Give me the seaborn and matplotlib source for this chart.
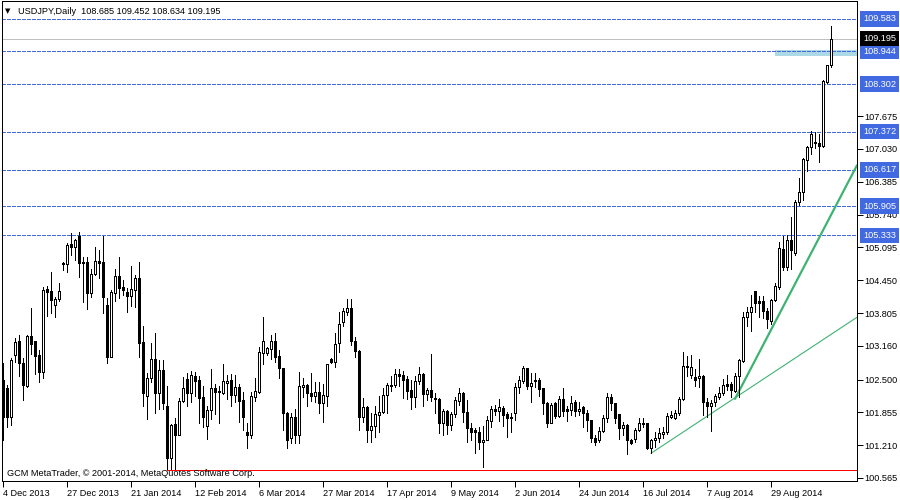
import matplotlib
matplotlib.use("Agg")
import matplotlib.pyplot as plt
import matplotlib.transforms as mtransforms
from matplotlib.patches import Rectangle
import seaborn as sns
import pandas as pd
import numpy as np

# daily USDJPY bars, 4 Dec 2013 .. 19 Sep 2014
opens = [
    102.49, 102.33, 101.77, 102.98, 103.26, 102.82, 102.38, 103.35, 103.26, 102.99,
    102.64, 104.27, 104.24, 103.96, 104.08, 104.79, 104.76, 105.16, 105.11, 105.32,
    104.81, 104.80, 104.19, 104.57, 104.83, 104.80, 103.96, 102.95, 104.19, 104.53,
    104.31, 104.21, 104.14, 104.26, 104.50, 103.24, 102.18, 102.52, 102.90, 102.23,
    102.69, 101.97, 100.95, 101.63, 101.40, 102.08, 102.51, 102.23, 102.57, 102.49,
    102.15, 101.59, 101.90, 102.33, 102.27, 102.24, 102.44, 102.49, 102.20, 102.36,
    102.10, 101.46, 101.40, 102.16, 102.26, 103.03, 103.03, 103.09, 103.26, 102.96,
    102.73, 101.85, 101.36, 101.77, 101.40, 102.36, 102.39, 102.23, 102.18, 102.25,
    102.03, 102.18, 102.90, 102.85, 103.21, 103.62, 103.83, 103.90, 103.26, 103.06,
    101.77, 101.95, 101.50, 101.59, 101.80, 101.87, 102.20, 102.38, 102.40, 102.60,
    102.59, 102.51, 102.30, 102.15, 102.47, 102.60, 102.21, 102.29, 102.14, 102.12,
    101.65, 101.88, 101.61, 101.82, 102.08, 102.24, 101.86, 101.54, 101.51, 101.47,
    101.28, 101.32, 101.69, 101.92, 101.88, 101.94, 101.82, 101.77, 101.84, 102.35,
    102.48, 102.72, 102.38, 102.49, 102.50, 102.33, 102.03, 101.65, 102.03, 101.79,
    102.11, 101.93, 101.91, 102.05, 101.89, 101.95, 101.84, 101.70, 101.36, 101.31,
    101.49, 101.74, 102.16, 102.04, 101.82, 101.54, 101.60, 101.31, 101.34, 101.51,
    101.63, 101.65, 101.15, 101.31, 101.36, 101.43, 101.46, 101.77, 101.74, 101.84,
    102.11, 102.77, 102.59, 102.54, 102.52, 102.57, 102.06, 101.98, 102.06, 102.16,
    102.23, 102.41, 102.41, 102.28, 102.56, 102.87, 103.72, 103.82, 104.24, 104.04,
    104.04, 103.85, 103.64, 104.07, 104.32, 105.06, 104.71, 105.24, 104.98, 105.99,
    106.19, 106.82, 107.07, 107.17, 107.15, 107.09, 108.34, 108.685,
]
highs = [
    102.82, 102.39, 102.92, 103.31, 103.37, 102.92, 103.37, 103.90, 103.26, 103.08,
    104.32, 104.34, 104.62, 104.13, 104.40, 104.81, 105.18, 105.37, 105.27, 105.40,
    104.91, 104.91, 104.68, 105.11, 105.04, 105.32, 104.10, 104.26, 104.67, 104.90,
    104.45, 104.29, 104.73, 104.55, 104.81, 103.55, 102.62, 103.21, 103.41, 102.88,
    102.88, 102.37, 101.63, 101.75, 102.14, 102.54, 102.62, 102.67, 102.65, 102.56,
    102.37, 101.97, 102.70, 102.42, 102.37, 102.80, 102.59, 102.60, 102.59, 102.41,
    102.26, 101.64, 102.26, 102.52, 103.14, 103.73, 103.14, 103.37, 103.41, 103.08,
    102.73, 101.87, 101.84, 101.93, 102.65, 102.52, 102.41, 102.62, 102.46, 102.46,
    102.41, 102.80, 102.93, 103.41, 103.82, 103.90, 104.09, 104.09, 103.34, 103.08,
    102.13, 101.97, 101.84, 101.98, 102.18, 102.34, 102.44, 102.56, 102.70, 102.70,
    102.67, 102.56, 102.49, 102.56, 102.74, 102.62, 102.34, 103.00, 102.23, 102.13,
    101.93, 101.91, 101.87, 102.16, 102.33, 102.26, 102.10, 101.64, 101.54, 101.56,
    101.59, 101.79, 101.97, 102.00, 102.11, 101.97, 101.86, 101.84, 102.44, 102.56,
    102.77, 102.72, 102.62, 102.62, 102.52, 102.34, 102.06, 102.03, 102.06, 102.18,
    102.33, 101.98, 102.18, 102.10, 102.06, 101.97, 101.90, 101.70, 101.41, 101.56,
    101.80, 102.24, 102.21, 102.04, 101.82, 101.67, 101.62, 101.34, 101.54, 101.74,
    101.74, 101.65, 101.34, 101.47, 101.54, 101.57, 101.84, 101.88, 101.90, 102.16,
    103.05, 102.96, 102.98, 102.70, 102.90, 102.59, 102.13, 102.10, 102.21, 102.35,
    102.51, 102.59, 102.46, 102.63, 102.90, 103.82, 103.93, 104.16, 104.24, 104.14,
    104.14, 103.90, 104.09, 104.39, 105.21, 105.31, 105.34, 105.69, 106.02, 106.45,
    106.86, 107.08, 107.38, 107.37, 107.33, 108.38, 108.68, 109.452,
]
lows = [
    101.31, 101.57, 101.61, 102.85, 102.56, 102.10, 102.36, 103.01, 102.60, 102.46,
    102.52, 103.75, 103.81, 103.73, 104.05, 104.66, 104.62, 104.94, 104.85, 104.51,
    104.03, 103.88, 104.13, 104.55, 104.49, 103.80, 102.82, 102.95, 104.05, 104.11,
    104.16, 103.83, 103.94, 103.93, 102.95, 101.98, 101.72, 102.46, 101.84, 101.93,
    101.93, 100.75, 100.75, 100.75, 101.40, 102.06, 101.97, 102.06, 102.18, 101.65,
    101.57, 101.34, 101.72, 101.82, 101.64, 102.22, 102.12, 101.97, 102.06, 101.67,
    101.51, 101.16, 101.36, 102.08, 102.23, 102.80, 102.98, 102.90, 102.85, 102.52,
    101.50, 101.16, 101.25, 101.25, 101.25, 102.16, 101.98, 102.08, 102.05, 101.84,
    101.67, 101.98, 102.83, 102.75, 103.05, 103.55, 103.77, 103.18, 102.95, 101.51,
    101.67, 101.28, 101.28, 101.38, 101.46, 101.84, 101.84, 102.27, 102.36, 102.37,
    102.13, 102.11, 101.93, 101.95, 102.42, 101.98, 102.10, 102.08, 101.84, 101.44,
    101.40, 101.42, 101.51, 101.77, 102.00, 101.67, 101.28, 101.31, 101.06, 101.14,
    100.79, 101.31, 101.56, 101.80, 101.69, 101.59, 101.38, 101.46, 101.70, 102.23,
    102.43, 102.31, 102.06, 102.35, 102.18, 101.82, 101.56, 101.64, 101.74, 101.77,
    101.79, 101.69, 101.80, 101.79, 101.80, 101.57, 101.48, 101.28, 101.21, 101.28,
    101.46, 101.67, 101.90, 101.64, 101.34, 101.41, 101.03, 101.23, 101.28, 101.49,
    101.57, 101.13, 101.05, 101.18, 101.28, 101.36, 101.43, 101.74, 101.72, 101.80,
    102.10, 102.56, 102.52, 102.37, 102.36, 101.80, 101.76, 101.48, 101.97, 102.11,
    102.20, 102.29, 102.16, 102.26, 102.15, 102.85, 103.56, 103.46, 103.82, 103.72,
    103.70, 103.52, 103.60, 104.05, 104.27, 104.65, 104.65, 104.67, 104.95, 105.93,
    106.02, 106.59, 106.94, 107.05, 106.78, 107.07, 108.32, 108.634,
]
closes = [
    101.77, 101.77, 102.88, 103.24, 102.82, 102.39, 103.35, 103.19, 102.97, 102.64,
    104.26, 104.21, 104.06, 104.08, 104.24, 104.76, 105.14, 105.11, 105.24, 104.78,
    104.78, 104.19, 104.57, 104.83, 104.79, 104.13, 102.95, 104.21, 104.53, 104.30,
    104.26, 104.15, 104.27, 104.50, 103.22, 102.23, 102.52, 102.90, 102.23, 102.69,
    102.03, 100.95, 101.61, 101.40, 102.08, 102.33, 102.23, 102.59, 102.48, 102.13,
    101.76, 101.90, 102.33, 102.26, 102.25, 102.47, 102.47, 102.20, 102.36, 102.08,
    101.76, 101.40, 102.18, 102.27, 103.05, 103.26, 103.11, 103.26, 102.95, 102.72,
    101.84, 101.32, 101.77, 101.40, 102.37, 102.39, 102.23, 102.18, 102.25, 102.03,
    102.20, 102.80, 102.85, 103.20, 103.60, 103.85, 103.90, 103.26, 103.06, 101.77,
    101.95, 101.50, 101.59, 101.82, 101.87, 102.20, 102.39, 102.40, 102.60, 102.57,
    102.50, 102.28, 102.15, 102.47, 102.60, 102.21, 102.29, 102.16, 102.11, 101.64,
    101.88, 101.61, 101.82, 102.10, 102.23, 101.86, 101.54, 101.46, 101.46, 101.28,
    101.32, 101.70, 101.93, 101.88, 101.95, 101.80, 101.75, 101.75, 102.36, 102.49,
    102.72, 102.38, 102.44, 102.48, 102.31, 102.03, 101.65, 102.00, 101.79, 102.11,
    101.89, 101.89, 102.03, 101.88, 101.93, 101.84, 101.70, 101.36, 101.28, 101.49,
    101.74, 102.16, 102.03, 101.74, 101.54, 101.60, 101.31, 101.26, 101.51, 101.64,
    101.65, 101.15, 101.31, 101.36, 101.44, 101.46, 101.78, 101.80, 101.84, 102.11,
    102.76, 102.74, 102.75, 102.50, 102.57, 102.06, 101.98, 102.04, 102.18, 102.24,
    102.39, 102.37, 102.29, 102.56, 102.88, 103.72, 103.82, 103.92, 104.01, 104.01,
    103.85, 103.69, 104.06, 104.33, 105.08, 104.71, 105.24, 105.04, 105.99, 106.19,
    106.84, 107.07, 107.33, 107.14, 107.09, 108.36, 108.67, 109.195,
]

date_labels = ["4 Dec 2013", "27 Dec 2013", "21 Jan 2014", "12 Feb 2014", "6 Mar 2014",
               "27 Mar 2014", "17 Apr 2014", "9 May 2014", "2 Jun 2014", "24 Jun 2014",
               "16 Jul 2014", "7 Aug 2014", "29 Aug 2014"]
date_bars = [0, 16, 32, 48, 64, 80, 96, 112, 128, 144, 160, 176, 192]

price_ticks = [100.565, 101.210, 101.855, 102.500, 103.160, 103.805, 104.450,
               105.095, 105.740, 106.385, 107.030, 107.675]
levels = [109.583, 108.944, 108.302, 107.372, 106.617, 105.905, 105.333]
bid = 109.195
support_low = 100.73
support_start = 41
zone = (108.86, 108.98)
zone_start = 193
thin_trend = [(162, 101.05), (183, 102.14)]
thick_trend = [(183, 102.12), (205, 105.43)]

title = "USDJPY,Daily  108.685 109.452 108.634 109.195"
credit = "GCM MetaTrader, \u00a9 2001-2014, MetaQuotes Software Corp."

sns.set_theme(style="white")
plt.rcParams["font.family"] = ["Liberation Sans", "DejaVu Sans"]

BLUE = "#4169E1"
GREEN = "#3CB371"
FS = 6.6
PX = 0.72  # one pixel in points at 100 dpi

df = pd.DataFrame({"open": opens, "high": highs, "low": lows, "close": closes})
df["bar"] = np.arange(len(df))
df["up"] = df["close"] >= df["open"]
df["body_lo"] = df[["open", "close"]].min(axis=1)
df["body_h"] = np.maximum((df["close"] - df["open"]).abs(), 0.012)

fig = plt.figure(figsize=(9, 5), dpi=100)
ax = fig.add_axes([2 / 900, 19 / 500, 855 / 900, 480 / 500])
x_lo, x_hi = -0.25, 213.5
ax.set_xlim(x_lo, x_hi)
ax.set_ylim(100.506, 109.936)

# horizontal levels
for lv in levels:
    ax.axhline(lv, color=BLUE, lw=PX, ls=(0, (3, 2)), zorder=2, antialiased=False)
ax.axhline(bid, color="#C0C0C0", lw=PX, zorder=1, antialiased=False)
ax.add_patch(Rectangle((zone_start, zone[0]), x_hi - zone_start, zone[1] - zone[0],
                       facecolor="#ADD8E6", edgecolor="none", zorder=1))
ax.plot([support_start, x_hi], [support_low, support_low], color="red", lw=PX, zorder=2,
        antialiased=False)

# trend rays extended to the right edge
for pts, lw in [(thin_trend, 1.0), (thick_trend, 2.0)]:
    (x0, y0), (x1, y1) = pts
    slope = (y1 - y0) / (x1 - x0)
    line = pd.DataFrame({"bar": [x0, x_hi], "price": [y0, y0 + slope * (x_hi - x0)]})
    sns.lineplot(data=line, x="bar", y="price", color=GREEN, lw=lw * PX * 1.1, ax=ax, zorder=2)

# candles
ax.vlines(df["bar"], df["low"], df["high"], color="black", lw=PX, zorder=3, antialiased=False)
ax.bar(df["bar"], df["body_h"], bottom=df["body_lo"], width=0.5,
       color=np.where(df["up"], "white", "black"), edgecolor="black", linewidth=PX,
       zorder=4, antialiased=False)

ax.set_xlabel("")
ax.set_ylabel("")

# axes styling
for s in ax.spines.values():
    s.set_color("black")
    s.set_linewidth(PX)
ax.yaxis.tick_right()
ax.set_yticks(price_ticks)
ax.set_yticklabels([f"{p:.3f}" for p in price_ticks])
ax.set_xticks(date_bars)
ax.set_xticklabels(date_labels)
ax.tick_params(axis="both", direction="out", length=4, width=PX, color="black",
               labelsize=FS, labelcolor="black", pad=1.5)
ax.tick_params(axis="y", right=True, left=False)
ax.tick_params(axis="x", bottom=True)
for lbl in ax.get_xticklabels():
    lbl.set_ha("left")

# price labels for levels
trans = mtransforms.blended_transform_factory(ax.transAxes, ax.transData)
tx = 1 + 6 / 855
for lv in levels:
    ax.text(tx, lv, f"{lv:.3f}", transform=trans, ha="left", va="center", fontsize=FS,
            color="white", clip_on=False, zorder=6,
            bbox=dict(boxstyle="square,pad=0.35", fc=BLUE, ec="none"))
ax.text(tx, bid, f"{bid:.3f}", transform=trans, ha="left", va="center", fontsize=FS,
        color="white", clip_on=False, zorder=6,
        bbox=dict(boxstyle="square,pad=0.35", fc="black", ec="none"))

# header and credit
ax.text(3 / 855, 1 - 10 / 480, "\u25bc", transform=ax.transAxes, fontsize=5,
        family="DejaVu Sans", va="center", ha="left", color="black")
ax.text(16 / 855, 1 - 10 / 480, title, transform=ax.transAxes, fontsize=FS,
        va="center", ha="left", color="black")
ax.text(5 / 855, 7 / 480, credit, transform=ax.transAxes, fontsize=FS,
        va="center", ha="left", color="black")

fig.savefig("out.png", dpi=100, facecolor="white")
plt.close(fig)
